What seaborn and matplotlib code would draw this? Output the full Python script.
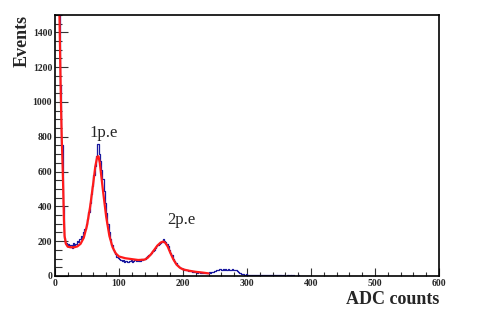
import numpy as np
import pandas as pd
import matplotlib
matplotlib.use("Agg")
import matplotlib.pyplot as plt
import seaborn as sns
from matplotlib.ticker import MultipleLocator

# Histogram: 2-ADC-count bins starting at 0
bin_width = 2
hist_counts = [
    3000, 6000, 5000, 1800, 1100, 750, 400, 220, 190, 175,
    185, 165, 180, 160, 190, 175, 185, 200, 195, 215,
    230, 220, 255, 270, 300, 330, 370, 420, 470, 520,
    580, 630, 690, 760, 700, 660, 610, 560, 490, 420,
    360, 300, 250, 210, 180, 150, 140, 125, 110, 105,
    95, 90, 85, 92, 80, 88, 82, 78, 85, 90,
    80, 88, 92, 85, 90, 84, 88, 95, 90, 98,
    100, 108, 115, 120, 128, 135, 145, 150, 160, 170,
    178, 185, 190, 196, 210, 200, 195, 185, 170, 150,
    135, 118, 100, 85, 72, 62, 55, 50, 45, 40,
    38, 35, 34, 32, 30, 28, 27, 25, 24, 22,
    22, 20, 21, 19, 18, 20, 18, 17, 19, 20,
    22, 20, 25, 23, 28, 30, 35, 32, 40, 38,
    35, 42, 36, 40, 34, 42, 37, 35, 40, 36,
    32, 35, 28, 22, 18, 14, 12, 10, 8, 9,
    7, 8, 6, 7, 5, 6, 5, 7, 5, 4,
    6, 5, 4, 5, 6, 4, 3, 5, 4, 3,
    5, 4, 3, 4, 3, 5, 3, 2, 4, 3,
    2, 3, 4, 2, 3, 2, 3, 2, 1, 2,
    3, 2, 1, 2, 1, 2, 1, 1, 2, 1,
]

# Fit curve (red)
fit_x = [5, 7, 9, 10.5, 12, 13, 14, 15, 17, 20, 25, 30, 35, 40, 45, 50, 55,
         60, 63, 66, 68, 70, 75, 80, 85, 90, 95, 100, 110, 120, 130, 140, 145,
         150, 155, 160, 165, 169, 172, 176, 180, 185, 190, 195, 200, 210, 220,
         230, 240]
fit_y = [2200, 1500, 1050, 800, 620, 480, 320, 230, 185, 168, 165, 165, 170,
         185, 220, 290, 400, 540, 630, 685, 688, 650, 490, 340, 230, 165, 130,
         112, 102, 97, 92, 94, 105, 125, 150, 175, 192, 198, 192, 170, 135, 95,
         65, 48, 38, 30, 24, 20, 15]

labels = ["1p.e", "2p.e"]
label_pos = [(76.5, 800), (198, 300)]

centers = np.arange(len(hist_counts)) * bin_width + bin_width / 2
hist_df = pd.DataFrame({"adc": centers, "events": hist_counts})
fit_df = pd.DataFrame({"adc": fit_x, "events": fit_y})

sns.set_style("ticks")
plt.rcParams["font.family"] = ["Liberation Serif", "DejaVu Serif"]

fig = plt.figure(figsize=(4.91, 3.16), dpi=100)
ax = fig.add_axes([0.112, 0.1266, 0.782, 0.826])

sns.lineplot(data=hist_df, x="adc", y="events", ax=ax, color="#1a1aa0",
             lw=0.9, drawstyle="steps-mid", estimator=None, sort=False)
sns.lineplot(data=fit_df, x="adc", y="events", ax=ax, color="#ff1a1a",
             lw=1.6, estimator=None, sort=False)

ax.set_xlim(0, 600)
ax.set_ylim(0, 1500)
ax.xaxis.set_major_locator(MultipleLocator(100))
ax.xaxis.set_minor_locator(MultipleLocator(20))
ax.yaxis.set_major_locator(MultipleLocator(200))
ax.yaxis.set_minor_locator(MultipleLocator(50))
ax.tick_params(axis="both", which="both", direction="in", top=False, right=False,
               labelsize=7, width=0.8, color="#333333")
ax.tick_params(axis="y", which="major", length=9)
ax.tick_params(axis="y", which="minor", length=5)
ax.tick_params(axis="x", which="major", length=6)
ax.tick_params(axis="x", which="minor", length=3)
ax.tick_params(axis="y", pad=2)
ax.tick_params(axis="x", pad=2)
for lbl in ax.get_xticklabels() + ax.get_yticklabels():
    lbl.set_fontweight("bold")
for spine in ax.spines.values():
    spine.set_linewidth(1.2)
    spine.set_color("black")

ax.set_xlabel("")
ax.set_ylabel("")
fig.text(0.894, 0.025, "ADC counts", ha="right", va="bottom",
         fontsize=13, fontweight="bold")
fig.text(0.045, 0.9525, "Events", ha="center", va="top", rotation=90,
         fontsize=13, fontweight="bold")

for t, (x, y) in zip(labels, label_pos):
    ax.text(x, y, t, ha="center", va="baseline", fontsize=12)

fig.savefig("out.png", dpi=100)
